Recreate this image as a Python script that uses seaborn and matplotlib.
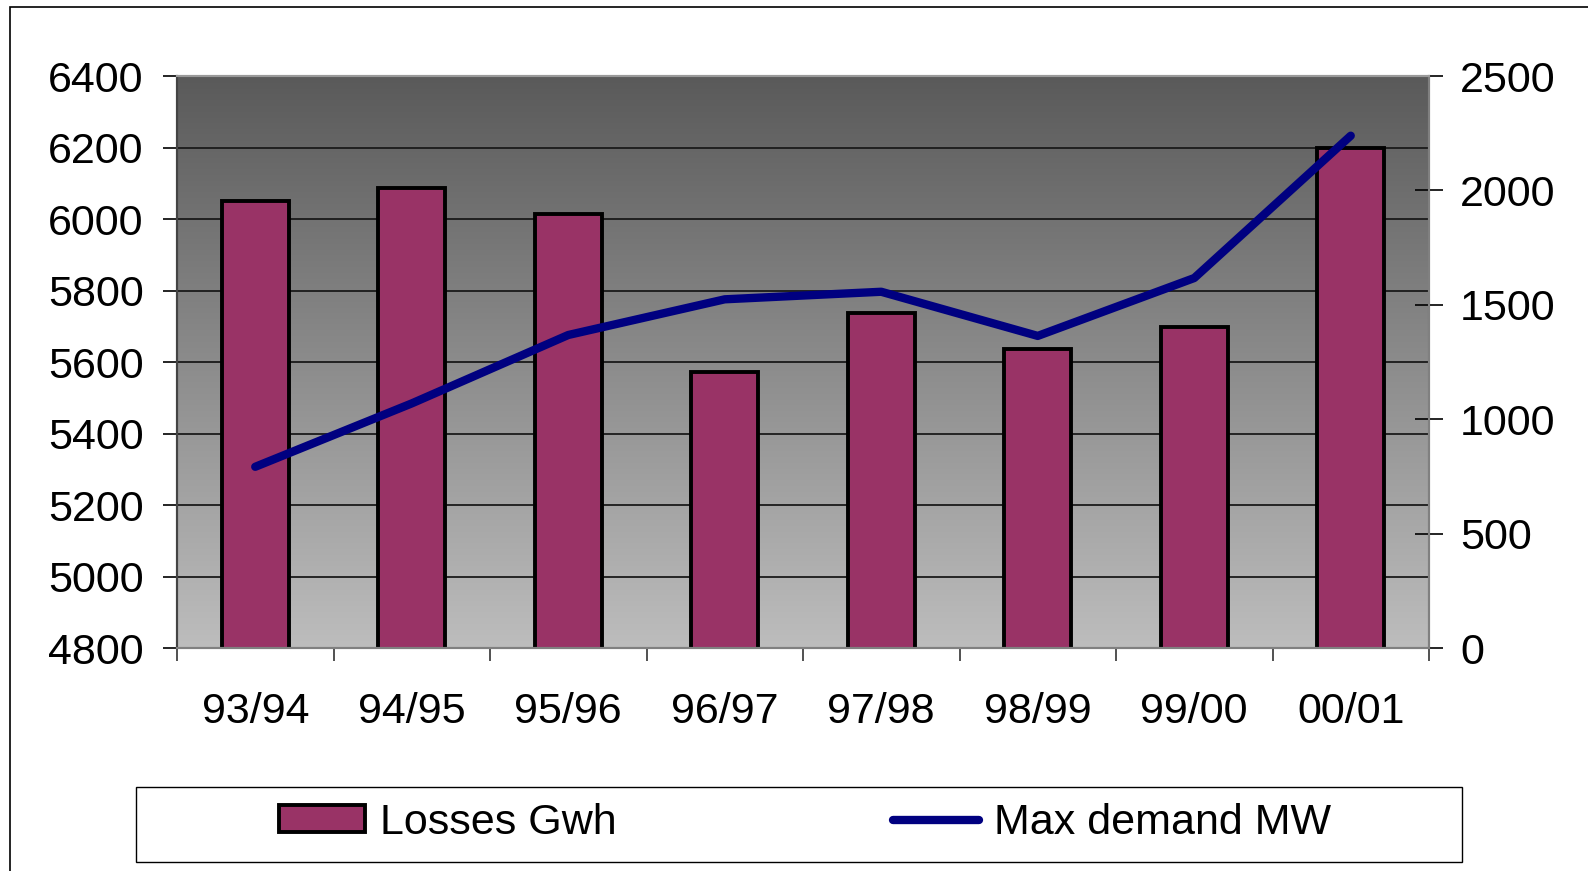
import numpy as np
import pandas as pd
import matplotlib
matplotlib.use("Agg")
import matplotlib.pyplot as plt
import seaborn as sns
from matplotlib.colors import LinearSegmentedColormap
from matplotlib.patches import Rectangle, Patch
from matplotlib.lines import Line2D

# ---- data ----
years = ["93/94", "94/95", "95/96", "96/97", "97/98", "98/99", "99/00", "00/01"]
losses_gwh = [6050, 6087, 6013, 5571, 5737, 5636, 5699, 6200]
max_demand_mw = [792, 1069, 1368, 1524, 1557, 1364, 1617, 2239]
left_ticks = [4800, 5000, 5200, 5400, 5600, 5800, 6000, 6200, 6400]
right_ticks = [0, 500, 1000, 1500, 2000, 2500]
series_labels = ["Losses Gwh", "Max demand MW"]

BAR_COLOR = "#993366"
LINE_COLOR = "#000080"
FS = 31
LINE_W = 6.0
EDGE_W = 2.8

sns.set_theme(style="white")
plt.rcParams["font.family"] = ["Liberation Sans", "DejaVu Sans"]
plt.rcParams["text.color"] = "black"

W, H = 1588, 871
fig = plt.figure(figsize=(W / 100, H / 100), dpi=100)
fig.patch.set_facecolor("white")

L, R, T, B = 177, 1429, 76, 648
ax = fig.add_axes([L / W, 1 - B / H, (R - L) / W, (B - T) / H])

df = pd.DataFrame({"year": years, "losses": losses_gwh, "demand": max_demand_mw})

# gradient background
cmap = LinearSegmentedColormap.from_list("bg", ["#bdbdbd", "#5a5a5a"])
ax.imshow(np.linspace(0, 1, 256).reshape(-1, 1), cmap=cmap, origin="lower",
          extent=[0, 1, 0, 1], transform=ax.transAxes, aspect="auto", zorder=-2)

sns.barplot(data=df, x="year", y="losses", color=BAR_COLOR, saturation=1,
            width=0.43, edgecolor="black", linewidth=EDGE_W, ax=ax, zorder=2)
ax.set_ylim(4800, 6400)
ax.set_yticks(left_ticks)
ax.set_xlabel("")
ax.set_ylabel("")
ax.set_axisbelow(True)
ax.yaxis.grid(True, color="#1a1a1a", linewidth=1.3)
ax.xaxis.grid(False)

ax2 = ax.twinx()
sns.lineplot(x=np.arange(len(years)), y=max_demand_mw, ax=ax2, color=LINE_COLOR,
             linewidth=LINE_W, solid_capstyle="round", solid_joinstyle="round")
ax2.set_ylim(0, 2500)
ax2.set_yticks(right_ticks)
ax2.set_xlabel("")
ax2.set_ylabel("")
ax2.grid(False)
ax.set_xlim(-0.5, len(years) - 0.5)

ax.set_xticks(range(len(years)))
ax.set_xticklabels(years)
ax.set_xticks(np.arange(-0.5, len(years), 1.0), minor=True)
ax.tick_params(axis="x", which="major", length=0, pad=32, labelsize=FS, labelcolor="black")
ax.tick_params(axis="x", which="minor", length=9.5, width=1.2, color="#333333",
               direction="out", bottom=True)
ax.tick_params(axis="y", which="major", length=10, width=1.2, color="black",
               direction="out", left=True, pad=14, labelsize=FS, labelcolor="black")
ax2.tick_params(axis="y", which="major", length=20, width=1.2, color="black",
                direction="inout", right=True, pad=12.5, labelsize=FS, labelcolor="black")

for a in (ax, ax2):
    for s in a.spines.values():
        s.set_visible(True)
        s.set_linewidth(1.5)
    a.spines["left"].set_color("#444444")
    a.spines["right"].set_color("#808080")
    a.spines["top"].set_color("#9a9a9a")
    a.spines["bottom"].set_color("#808080")
ax2.patch.set_visible(False)

# legend
handles = [Patch(facecolor=BAR_COLOR, edgecolor="black", linewidth=EDGE_W),
           Line2D([], [], color=LINE_COLOR, linewidth=LINE_W, solid_capstyle="round")]
leg = fig.legend(handles, series_labels, ncol=2, frameon=False, loc="center",
                 bbox_to_anchor=(805 / W, 1 - 823 / H), fontsize=FS,
                 handlelength=2.0, handleheight=0.6, handletextpad=0.35, columnspacing=6.4)
for t in leg.get_texts():
    t.set_color("black")
fig.patches.append(Rectangle((136 / W, 1 - 862 / H), (1462 - 136) / W, 75 / H,
                             transform=fig.transFigure, fill=False,
                             edgecolor="black", linewidth=1.0))
# outer chart border
fig.patches.append(Rectangle((10 / W, -0.1), 1.2, 1 - 7 / H + 0.1,
                             transform=fig.transFigure, fill=False,
                             edgecolor="black", linewidth=1.2))

fig.savefig("out.png", dpi=100)
